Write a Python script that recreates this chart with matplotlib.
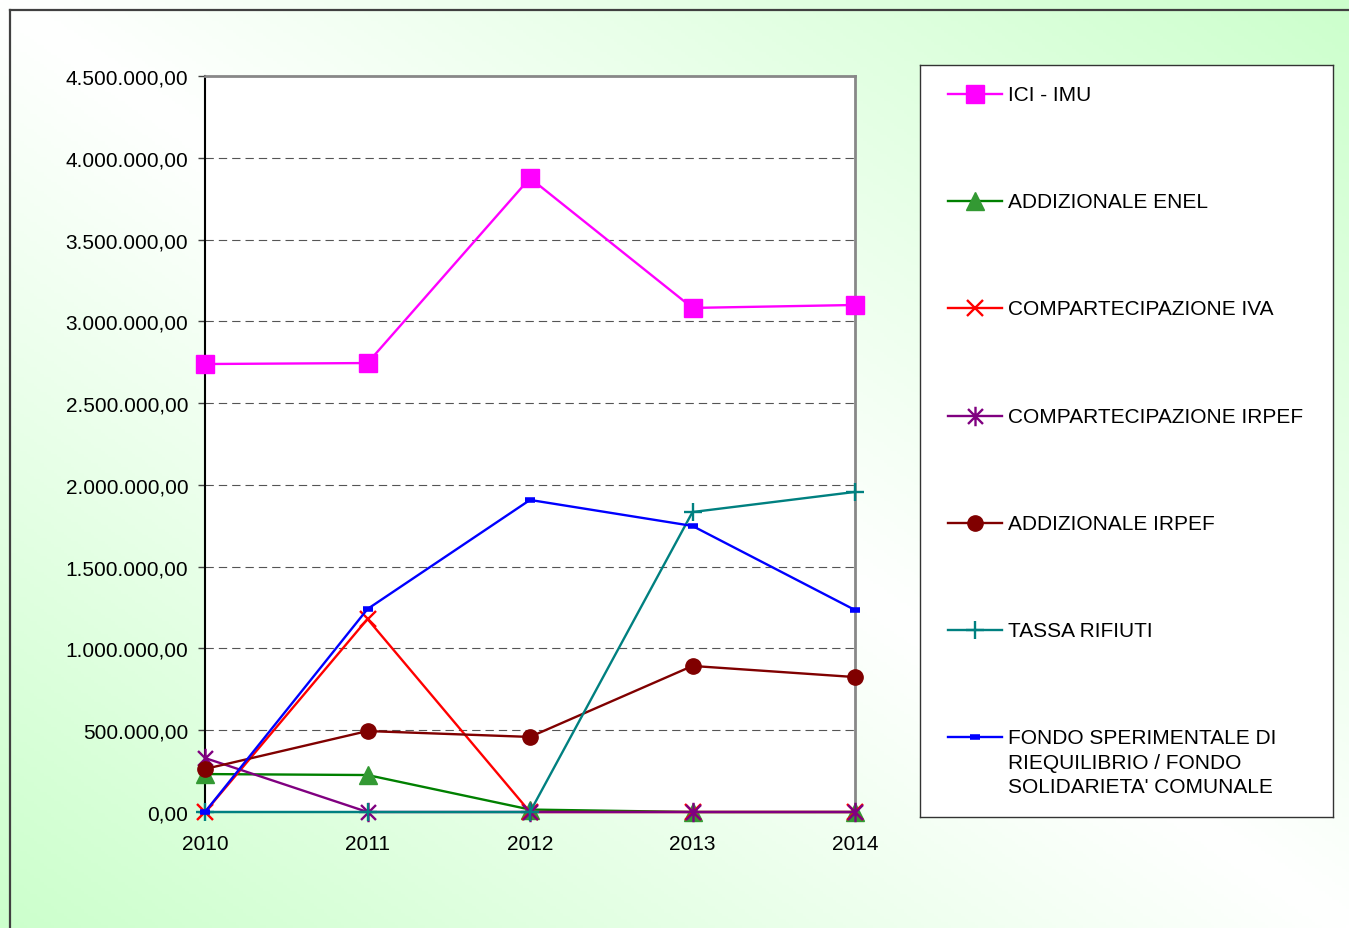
import matplotlib.pyplot as plt
import numpy as np
from matplotlib.lines import Line2D
from matplotlib.path import Path
from matplotlib.ticker import FuncFormatter, MultipleLocator

plt.rcParams['font.family'] = ['Liberation Sans', 'DejaVu Sans']

anni = ['2010', '2011', '2012', '2013', '2014']

ici_imu = [2739000, 2745000, 3876000, 3082000, 3100000]
add_enel = [232000, 226000, 15000, 0, 0]
comp_iva = [0, 1180000, 0, 0, 0]
comp_irpef = [330000, 0, 0, 0, 0]
add_irpef = [263000, 495000, 459000, 893000, 825000]
tassa_rifiuti = [0, 0, 0, 1834000, 1957000]
fondo = [0, 1241000, 1908000, 1749000, 1235000]

nomi = ['ICI - IMU', 'ADDIZIONALE ENEL', 'COMPARTECIPAZIONE IVA',
        'COMPARTECIPAZIONE IRPEF', 'ADDIZIONALE IRPEF', 'TASSA RIFIUTI',
        "FONDO SPERIMENTALE DI\nRIEQUILIBRIO / FONDO\nSOLIDARIETA' COMUNALE"]

# asterisk marker like the spreadsheet one: X plus a vertical bar
asterisco = Path([(-1, -1), (1, 1), (-1, 1), (1, -1), (0, -1.3), (0, 1.3)],
                 [Path.MOVETO, Path.LINETO, Path.MOVETO, Path.LINETO,
                  Path.MOVETO, Path.LINETO])

stili = [
    dict(color='#ff00ff', marker='s', ms=13, mfc='#ff00ff', mec='#ff00ff'),
    dict(color='#008000', marker='^', ms=13, mfc='#339933', mec='#339933'),
    dict(color='#ff0000', marker='x', ms=12, mew=1.7),
    dict(color='#800080', marker=asterisco, ms=14, mew=1.7),
    dict(color='#800000', marker='o', ms=11, mfc='#800000', mec='#800000'),
    dict(color='#008080', marker='+', ms=13, mew=1.7),
    dict(color='#0000ff', marker='_', ms=7, mew=4),
]

W, H = 1349, 929
fig = plt.figure(figsize=(W / 100, H / 100), dpi=100)

# background gradient: white on the main diagonal, green toward the other corners
bg = fig.add_axes([0, 0, 1, 1], zorder=-10)
u = np.linspace(0, 1, 400)[None, :]
v = np.linspace(0, 1, 300)[:, None]
d = np.abs(u - v)
bianco = np.array([1.0, 1.0, 1.0])
verde = np.array([0.80, 1.0, 0.80])
img = bianco[None, None, :] * (1 - d[..., None]) + verde[None, None, :] * d[..., None]
bg.imshow(img, extent=[0, 1, 0, 1], aspect='auto', origin='upper')
bg.set_xlim(0, 1)
bg.set_ylim(0, 1)
bg.axis('off')

# outer frame (left and top edges visible)
fig.add_artist(Line2D([10 / W, 10 / W], [0, 1 - 11 / H], transform=fig.transFigure,
                      color='#404040', lw=1.6))
fig.add_artist(Line2D([10 / W, 1], [1 - 11 / H, 1 - 11 / H], transform=fig.transFigure,
                      color='#404040', lw=1.6))

ax = fig.add_axes([205 / W, 1 - 813 / H, 650 / W, 736 / H])
ax.set_facecolor('white')
x = np.arange(len(anni))
serie = [ici_imu, add_enel, comp_iva, comp_irpef, add_irpef, tassa_rifiuti, fondo]
for i, (vals, st) in enumerate(zip(serie, stili)):
    ax.plot(x, vals, lw=1.7, clip_on=False, zorder=3 + i, **st)

ax.set_xlim(0, len(anni) - 1)
ax.set_ylim(0, 4500000)
ax.yaxis.set_major_locator(MultipleLocator(500000))
ax.yaxis.set_major_formatter(FuncFormatter(
    lambda val, pos: f"{val:,.2f}".replace(',', 'X').replace('.', ',').replace('X', '.')))
ax.set_xticks(x)
ax.set_xticklabels(anni)
ax.tick_params(axis='y', labelsize=15, length=5, width=1, pad=7, color='#404040')
ax.tick_params(axis='x', labelsize=15, length=0, pad=16)

for val in np.arange(500000, 4500000, 500000):
    gl = ax.axhline(val, color='#555555', lw=0.8, zorder=1)
    gl.set_dashes((7.5, 4.5))

ax.spines['left'].set_color('black')
ax.spines['left'].set_linewidth(1.5)
ax.spines['bottom'].set_color('black')
ax.spines['bottom'].set_linewidth(1.5)
ax.spines['top'].set_color('#888888')
ax.spines['top'].set_linewidth(2)
ax.spines['right'].set_color('#888888')
ax.spines['right'].set_linewidth(2)

# legend box drawn by hand so the 3-line label keeps its handle on the first line
lg = fig.add_axes([920 / W, 1 - 818 / H, 413 / W, 752 / H])
lg.set_facecolor('white')
lg.set_xlim(0, 413)
lg.set_ylim(752, 0)
lg.set_xticks([])
lg.set_yticks([])
for s in lg.spines.values():
    s.set_color('#333333')
    s.set_linewidth(1)
for i, (nome, st) in enumerate(zip(nomi, stili)):
    yy = 29 + 107.2 * i
    lg.plot([28, 82], [yy, yy], lw=1.7, color=st['color'])
    mk = {k: v for k, v in st.items() if k != 'color'}
    lg.plot([55], [yy], color=st['color'], ls='none', **mk)
    lg.text(88, yy - 9, nome, fontsize=15, va='top', ha='left', linespacing=1.37)

fig.savefig('out.png', dpi=100)
